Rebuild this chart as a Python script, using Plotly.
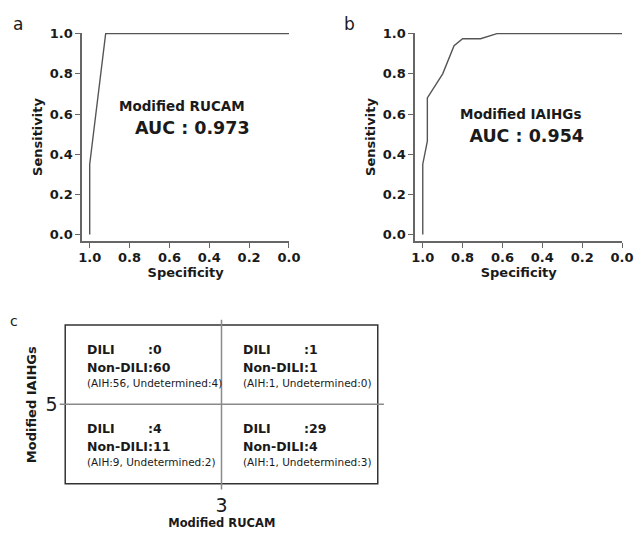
import plotly.graph_objects as go

# ---------------- data ----------------
rucam_spec = [1.0, 1.0, 0.92, 0.0]
rucam_sens = [0.0, 0.35, 1.0, 1.0]
rucam_auc = 0.973

iaihg_spec = [1.0, 1.0, 0.977, 0.977, 0.90, 0.843, 0.80, 0.71, 0.628, 0.0]
iaihg_sens = [0.0, 0.35, 0.465, 0.68, 0.80, 0.94, 0.975, 0.975, 1.0, 1.0]
iaihg_auc = 0.954

tick_vals = [1.0, 0.8, 0.6, 0.4, 0.2, 0.0]
tick_text = ["1.0", "0.8", "0.6", "0.4", "0.2", "0.0"]

rucam_cut = 3
iaihg_cut = 5
# quadrants: (rucam side, iaihg side)
quad_col = ["low", "high", "low", "high"]
quad_row = ["high", "high", "low", "low"]
dili = [0, 1, 4, 29]
non_dili = [60, 1, 11, 4]
aih = [56, 1, 9, 1]
undet = [4, 0, 2, 3]

W, H = 644, 534
FONT = "DejaVu Sans"
TXT = "#1a1a1a"
AX = "#666666"


def fx(px):
    return px / W


def fy(py):
    return 1 - py / H


fig = go.Figure()

fig.add_trace(go.Scatter(x=rucam_spec, y=rucam_sens, mode="lines",
                         line=dict(color="#555555", width=1.4),
                         xaxis="x", yaxis="y", showlegend=False, hoverinfo="skip"))
fig.add_trace(go.Scatter(x=iaihg_spec, y=iaihg_sens, mode="lines",
                         line=dict(color="#555555", width=1.4),
                         xaxis="x2", yaxis="y2", showlegend=False, hoverinfo="skip"))
# invisible trace to activate the panel-c axes
fig.add_trace(go.Scatter(x=[rucam_cut], y=[iaihg_cut], mode="markers",
                         marker=dict(size=1, opacity=0),
                         xaxis="x3", yaxis="y3", showlegend=False, hoverinfo="skip"))

common_x = dict(range=[1.038, -0.001], tickmode="array", tickvals=tick_vals, ticktext=tick_text,
                showline=True, linecolor=AX, linewidth=1.6, ticks="outside", ticklen=5,
                tickwidth=1.4, tickcolor=AX, showgrid=False, zeroline=False,
                tickfont=dict(family=FONT, size=13, color=TXT, weight="bold"),
                ticklabelstandoff=-2,
                title=dict(text="Specificity", font=dict(family=FONT, size=13, color=TXT, weight="bold"),
                           standoff=3),
                fixedrange=True)
common_y = dict(range=[-0.034, 1.005], tickmode="array", tickvals=tick_vals, ticktext=tick_text,
                showline=True, linecolor=AX, linewidth=1.6, ticks="outside", ticklen=5,
                tickwidth=1.4, tickcolor=AX, showgrid=False, zeroline=False,
                tickfont=dict(family=FONT, size=13, color=TXT, weight="bold"),
                title=dict(text="Sensitivity", font=dict(family=FONT, size=13, color=TXT, weight="bold"),
                           standoff=4),
                fixedrange=True)

fig.update_layout(
    width=W, height=H,
    margin=dict(l=0, r=0, t=0, b=0),
    paper_bgcolor="white", plot_bgcolor="white",
    xaxis=dict(domain=[fx(80), fx(292)], anchor="y", **common_x),
    yaxis=dict(domain=[fy(238.5), fy(27)], anchor="x", **common_y),
    xaxis2=dict(domain=[fx(421), fx(633)], anchor="y2", **common_x),
    yaxis2=dict(domain=[fy(238.5), fy(27)], anchor="x2", **common_y),
    xaxis3=dict(domain=[fx(57), fx(389)], anchor="y3", range=[0.929, 5.079],
                showline=False, showgrid=False, zeroline=False, ticks="",
                tickmode="array", tickvals=[rucam_cut], ticktext=[str(rucam_cut)],
                tickfont=dict(family=FONT, size=19, color=TXT), ticklabelstandoff=2,
                title=dict(text="Modified RUCAM", font=dict(family=FONT, size=11.5, color=TXT, weight="bold"),
                           standoff=4),
                fixedrange=True),
    yaxis3=dict(domain=[fy(490), fy(318)], anchor="x3", range=[2.851, 7.132],
                showline=False, showgrid=False, zeroline=False, ticks="",
                tickmode="array", tickvals=[iaihg_cut], ticktext=[str(iaihg_cut)],
                tickfont=dict(family=FONT, size=19, color=TXT), ticklabelstandoff=1,
                title=dict(text="Modified IAIHGs", font=dict(family=FONT, size=13, color=TXT, weight="bold"),
                           standoff=6),
                fixedrange=True),
)

# panel c frame and cut lines
fig.add_shape(type="rect", xref="x3", yref="y3",
              x0=rucam_cut - 2, x1=rucam_cut + 2, y0=iaihg_cut - 2, y1=iaihg_cut + 2,
              line=dict(color="#333333", width=1.5))
fig.add_shape(type="line", xref="x3 domain", yref="y3", x0=0, x1=1, y0=iaihg_cut, y1=iaihg_cut,
              line=dict(color="#8a8a8a", width=1.5))
fig.add_shape(type="line", xref="x3", yref="y3 domain", x0=rucam_cut, x1=rucam_cut, y0=0, y1=1,
              line=dict(color="#8a8a8a", width=1.5))

# quadrant texts
for col, row, d, n, a, u in zip(quad_col, quad_row, dili, non_dili, aih, undet):
    left = rucam_cut - 2 if col == "low" else rucam_cut
    top = iaihg_cut + 2 if row == "high" else iaihg_cut
    x_lab = left + 0.254
    x_col = left + 1.035
    rows = [("DILI", f":{d}", -24.5), ("Non-DILI", f":{n}", -42.5)]
    for lab, val, dy in rows:
        fig.add_annotation(x=x_lab, y=top, xref="x3", yref="y3", text=lab, showarrow=False,
                           xanchor="left", yanchor="middle", yshift=dy,
                           font=dict(family=FONT, size=12.5, color=TXT, weight="bold"))
        fig.add_annotation(x=x_col, y=top, xref="x3", yref="y3", text=val, showarrow=False,
                           xanchor="left", yanchor="middle", yshift=dy,
                           font=dict(family=FONT, size=12.5, color=TXT, weight="bold"))
    fig.add_annotation(x=x_lab, y=top, xref="x3", yref="y3",
                       text=f"(AIH:{a}, Undetermined:{u})", showarrow=False,
                       xanchor="left", yanchor="middle", yshift=-57.5,
                       font=dict(family=FONT, size=10.5, color=TXT))


# ROC panel texts (method name + AUC as one two-line block)
def roc_label(name, auc, indent_px):
    sp = indent_px / (2 * 0.348)
    return (f"<span style='font-size:13.5px'>{name}</span><br>"
            f"<span style='font-size:{sp:.1f}px'>&nbsp;&nbsp;</span>AUC : {auc:.3f}")


fig.add_annotation(x=0.865, y=0.578, xref="x", yref="y", text=roc_label("Modified RUCAM", rucam_auc, 16),
                   showarrow=False, xanchor="left", yanchor="middle", align="left",
                   font=dict(family=FONT, size=17.5, color=TXT, weight="bold"))
fig.add_annotation(x=0.821, y=0.539, xref="x2", yref="y2", text=roc_label("Modified IAIHGs", iaihg_auc, 9.4),
                   showarrow=False, xanchor="left", yanchor="middle", align="left",
                   font=dict(family=FONT, size=17.5, color=TXT, weight="bold"))

# panel letters
for letter, px, py, sz in [("a", 14.5, 18, 17), ("b", 353.5, 18, 17), ("c", 10, 319, 14)]:
    fig.add_annotation(x=fx(px), y=fy(py), xref="paper", yref="paper", text=letter, showarrow=False,
                       xanchor="center", yanchor="middle",
                       font=dict(family=FONT, size=sz, color=TXT))

fig.write_html("out.html", config={"displayModeBar": False},
               post_script="document.body.style.margin='0';document.body.style.overflow='hidden';")
